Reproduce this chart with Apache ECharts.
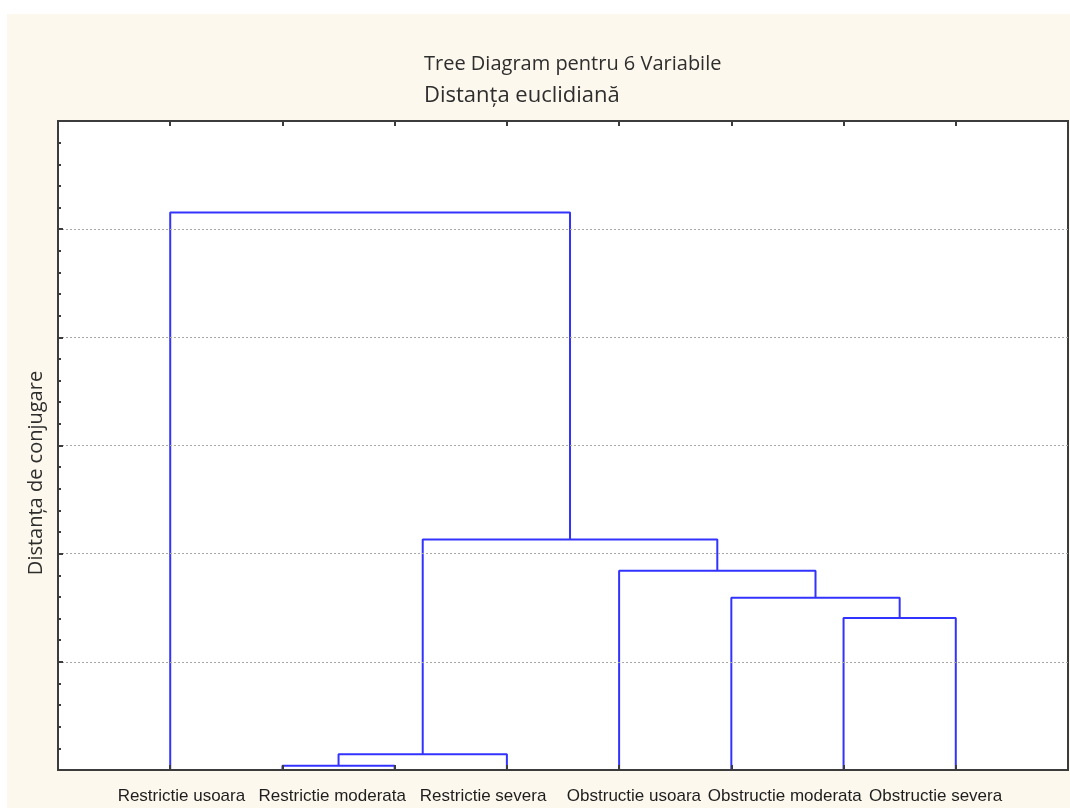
<!DOCTYPE html>
<html>
<head>
<meta charset="utf-8">
<script src="https://cdn.jsdelivr.net/npm/echarts@6/dist/echarts.min.js"></script>
<style>html,body{margin:0;padding:0;background:#fff;}#c{width:1070px;height:808px;}</style>
</head>
<body>
<div id="c"></div>
<script>
// ---- data ----
const titleText = 'Tree Diagram pentru 6 Variabile';
const subtitleText = 'Distanța euclidiană';
const yAxisName = 'Distanța de conjugare';
const categoryLabels = ['Restrictie usoara', 'Restrictie moderata', 'Restrictie severa', 'Obstructie usoara', 'Obstructie moderata', 'Obstructie severa'];
// leaf positions on the x scale (leaves are node ids 0..7)
const leafPositions = [1, 2, 3, 4, 5, 6, 7, 8];
// merges: node ids joined (new node id = leaves.length + merge index) and linkage distance
const mergeLeft = [1, 8, 6, 5, 4, 9, 0];
const mergeRight = [2, 3, 7, 10, 11, 12, 13];
const mergeHeight = [0.04, 0.145, 1.405, 1.593, 1.843, 2.13, 5.155];
const yMin = 0, yMax = 6, yInterval = 1;
const xMin = 0, xMax = 9;

// ---- build dendrogram links ----
const nodeX = leafPositions.slice();
const nodeH = leafPositions.map(() => 0);
const links = [];
for (let i = 0; i < mergeHeight.length; i++) {
  const a = mergeLeft[i], b = mergeRight[i], h = mergeHeight[i];
  links.push([[nodeX[a], nodeH[a]], [nodeX[a], h], [nodeX[b], h], [nodeX[b], nodeH[b]]]);
  nodeX.push((nodeX[a] + nodeX[b]) / 2);
  nodeH.push(h);
}

const chart = echarts.init(document.getElementById('c'));
const lineColor = '#3333ff';
const axisCol = '#3c3c3c';

const series = links.map(pts => ({
  type: 'line', xAxisIndex: 0, yAxisIndex: 0, data: pts, symbol: 'none',
  lineStyle: { color: lineColor, width: 2 }, silent: true, animation: false, z: 5
}));
series.push({ type: 'line', xAxisIndex: 2, yAxisIndex: 2, data: [], silent: true });

const yCommon = {
  type: 'value', min: yMin, max: yMax, interval: yInterval,
  axisLabel: { show: false },
  axisTick: { show: true, inside: true, length: 5, lineStyle: { color: axisCol, width: 2 } },
  minorTick: { show: true, splitNumber: 5, length: 3, lineStyle: { color: axisCol, width: 2 } },
  axisLine: { show: true, lineStyle: { color: axisCol, width: 2 } },
  z: 6
};

chart.setOption({
  animation: false,
  backgroundColor: '#fdf8ed',
  title: {
    left: 419, top: 49,
    text: titleText, subtext: subtitleText, itemGap: 11,
    textStyle: { fontFamily: 'Open Sans', fontSize: 20, fontWeight: 'normal', color: '#2e2e2e' },
    subtextStyle: { fontFamily: 'Open Sans', fontSize: 22, color: '#2e2e2e' }
  },
  graphic: [
    { type: 'rect', shape: { x: 0, y: 0, width: 1070, height: 14 }, style: { fill: '#ffffff' }, silent: true },
    { type: 'rect', shape: { x: 0, y: 0, width: 7, height: 808 }, style: { fill: '#ffffff' }, silent: true },
    { type: 'text', x: 36, y: 473, rotation: Math.PI / 2,
      style: { text: yAxisName, fontFamily: 'Open Sans', fontSize: 20, fill: '#2e2e2e', align: 'center', verticalAlign: 'middle' } }
  ],
  grid: [
    { left: 58, right: 2, top: 121, bottom: 38, show: true, backgroundColor: '#ffffff', borderColor: axisCol, borderWidth: 2 },
    { left: 106, width: 905, top: 770, height: 1 }
  ],
  xAxis: [
    { type: 'value', gridIndex: 0, position: 'bottom', min: xMin, max: xMax, interval: 1,
      axisLabel: { show: false }, splitLine: { show: false },
      axisTick: { show: true, inside: true, length: 5, lineStyle: { color: axisCol, width: 2 } },
      axisLine: { show: true, onZero: false, lineStyle: { color: axisCol, width: 2 } }, z: 6 },
    { type: 'value', gridIndex: 0, position: 'top', min: xMin, max: xMax, interval: 1,
      axisLabel: { show: false }, splitLine: { show: false },
      axisTick: { show: true, inside: true, length: 5, lineStyle: { color: axisCol, width: 2 } },
      axisLine: { show: true, onZero: false, lineStyle: { color: axisCol, width: 2 } }, z: 6 },
    { type: 'category', gridIndex: 1, data: categoryLabels, position: 'bottom',
      axisLine: { show: false }, axisTick: { show: false },
      axisLabel: { interval: 0, margin: 17, fontFamily: 'Liberation Sans', fontSize: 17, color: '#1e1e1e' } }
  ],
  yAxis: [
    Object.assign({}, yCommon, { gridIndex: 0, position: 'left',
      splitLine: { show: true, lineStyle: { color: '#a8a8a8', type: [2, 2], width: 1 } } }),
    Object.assign({}, yCommon, { gridIndex: 0, position: 'right', splitLine: { show: false },
      axisTick: { show: true, inside: false, length: 3, lineStyle: { color: axisCol, width: 2 } },
      minorTick: { show: true, splitNumber: 5, length: 2, lineStyle: { color: axisCol, width: 2 } } }),
    { type: 'value', gridIndex: 1, show: false }
  ],
  series: series
});
</script>
</body>
</html>
